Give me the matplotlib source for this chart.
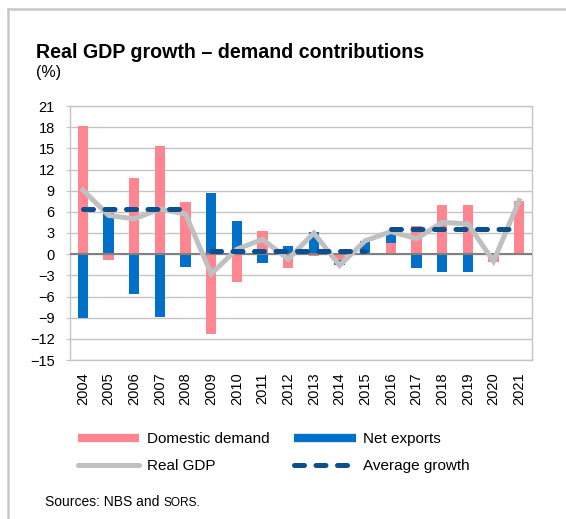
import matplotlib
matplotlib.use("Agg")
import matplotlib.pyplot as plt
from matplotlib.lines import Line2D
import numpy as np

plt.rcParams['font.family'] = ['Liberation Sans', 'DejaVu Sans']

# Contributions to real GDP growth, p.p.
years = ['2004', '2005', '2006', '2007', '2008', '2009', '2010', '2011', '2012',
         '2013', '2014', '2015', '2016', '2017', '2018', '2019', '2020', '2021']
domestic_demand = [18.1, -0.85, 10.85, 15.3, 7.4, -11.3, -3.95, 3.35, -1.9,
                   -0.3, -0.8, 0.1, 1.6, 4.05, 6.9, 6.9, -1.05, 7.55]
net_exports = [-9.1, 5.8, -5.7, -8.9, -1.75, 8.6, 4.65, -1.3, 1.2,
               3.2, -0.8, 1.7, 1.7, -1.9, -2.5, -2.55, 0.0, 0.0]
real_gdp = [9.1, 5.5, 5.0, 6.4, 5.7, -2.8, 0.7, 2.1, -0.7,
            3.0, -1.6, 1.9, 3.2, 2.2, 4.5, 4.3, -1.0, 7.6]
# period averages: 2004-2008, 2009-2015, 2016-2021
avg_periods = [(0, 4, 6.4), (5, 11, 0.45), (12, 17, 3.5)]

PINK = '#ff8591'
BLUE = '#0070c8'
GREY = '#c0c0c0'
NAVY = '#0b4f8c'

x = np.arange(len(years))
dd = np.array(domestic_demand)
nx = np.array(net_exports)
# stack net exports on domestic demand only when both have the same sign
nx_bottom = np.where(np.sign(dd) == np.sign(nx), dd, 0.0)

fig = plt.figure(figsize=(5.66, 5.19), dpi=100)
ax = fig.add_axes([70 / 566, 1 - 360 / 519, 462 / 566, 254 / 519])

ax.bar(x, dd, width=0.39, color=PINK, zorder=2)
ax.bar(x, nx, width=0.39, bottom=nx_bottom, color=BLUE, zorder=2)
ax.axhline(0, color='#808080', lw=1.5, zorder=3)
ax.plot(x, real_gdp, color=GREY, lw=3.6, solid_joinstyle='miter', zorder=4)

dash_style = (0, (2.0, 2.3))
for start, end, val in avg_periods:
    ax.plot([start, end], [val, val], color=NAVY, lw=3.6, linestyle=dash_style,
            dash_capstyle='round', zorder=5)

ax.set_xlim(-0.5, len(years) - 0.5)
ax.set_ylim(-15, 21)
ax.set_yticks(np.arange(-15, 22, 3))
ax.set_xticks(x)
ax.set_xticklabels(years, rotation=90)
ax.grid(axis='y', color='#c4c4c4', lw=1.0, zorder=0)
ax.set_axisbelow(True)
for side in ax.spines.values():
    side.set_color('#c4c4c4')
    side.set_linewidth(1.0)
ax.tick_params(axis='y', length=3, color='#c4c4c4', pad=8, labelsize=10.5)
ax.tick_params(axis='x', length=0, pad=9, labelsize=10.5)

fig.text(36 / 566, 1 - 58 / 519, 'Real GDP growth \u2013 demand contributions',
         fontsize=14.1, fontweight='bold', va='baseline')
fig.text(36 / 566, 1 - 77 / 519, '(%)', fontsize=11.5, va='baseline')

handles = [
    Line2D([], [], color=PINK, lw=6, solid_capstyle='butt'),
    Line2D([], [], color=GREY, lw=3.6, solid_capstyle='round'),
    Line2D([], [], color=BLUE, lw=6, solid_capstyle='butt'),
    Line2D([], [], color=NAVY, lw=3.6, linestyle=dash_style, dash_capstyle='round'),
]
labels = ['Domestic demand', 'Real GDP', 'Net exports', 'Average growth']
fig.legend(handles, labels, ncol=2, loc='upper left',
           bbox_to_anchor=(78 / 566, 1 - 432 / 519), frameon=False,
           fontsize=11, handlelength=4.0, handletextpad=0.5,
           columnspacing=1.64, labelspacing=0.85, borderpad=0, borderaxespad=0)

src = fig.text(45 / 566, 1 - 506 / 519, 'Sources: NBS and ', fontsize=10, va='baseline')
fig.canvas.draw()
bb = src.get_window_extent()
fig.text(bb.x1 / fig.bbox.width, 1 - 506 / 519, 'SORS.', fontsize=8.6, va='baseline')

# frame around the panel
fig.add_artist(Line2D([8 / 566, 8 / 566], [0, 1 - 9 / 519], color='#c8c8c8', lw=1.8))
fig.add_artist(Line2D([8 / 566, 1], [1 - 9 / 519, 1 - 9 / 519], color='#c8c8c8', lw=1.8))

fig.savefig('out.png', dpi=100)
